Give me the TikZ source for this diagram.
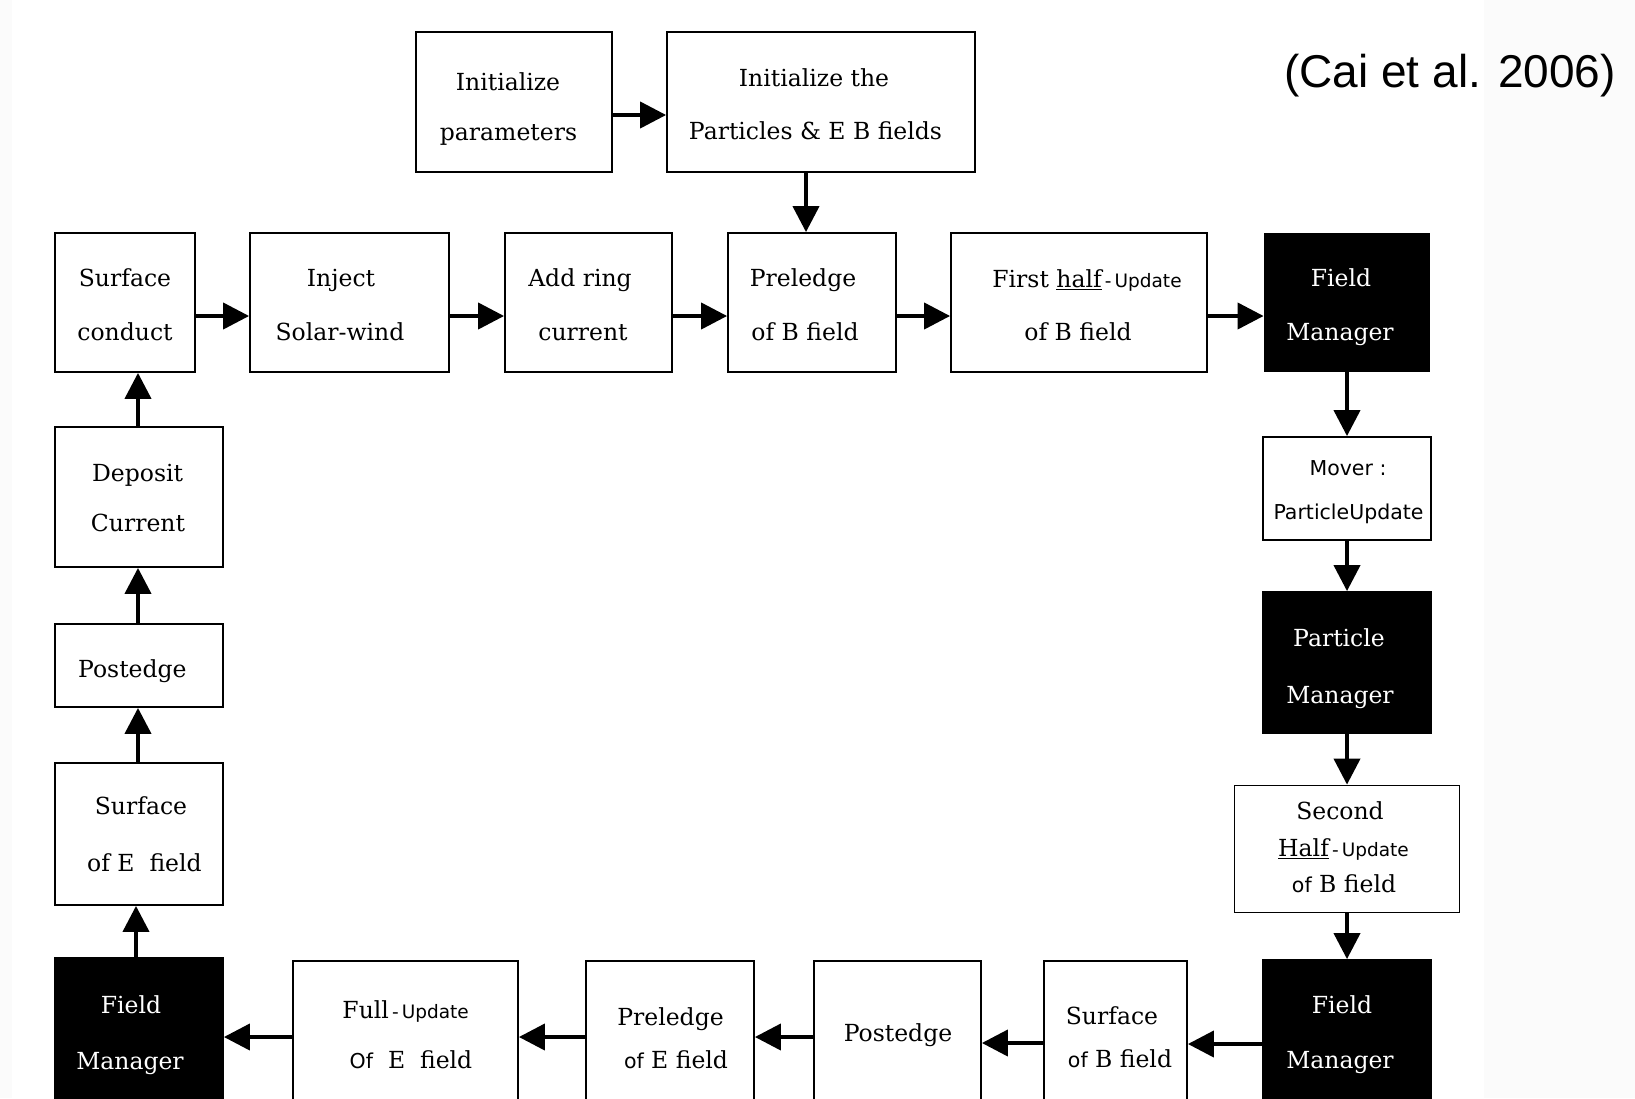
\documentclass[tikz,border=0pt]{standalone}
\usepackage{fontspec}
\setmainfont{DejaVu Serif}
\newfontfamily\sansu{DejaVu Sans}
\newfontfamily\citefont{Liberation Sans}
\usetikzlibrary{arrows.meta}
\newcommand{\smsans}[1]{{\sansu\fontsize{18.5}{22}\selectfont #1}}
\newcommand{\ofsans}[1]{{\sansu\fontsize{20.5}{24}\selectfont #1}}
\definecolor{bgtex}{RGB}{251,251,251}
\begin{document}
\begin{tikzpicture}[x=1pt,y=-1pt,
  box/.style={draw, line width=1.8pt, fill=white, rectangle, inner sep=0pt},
  blackbox/.style={draw, line width=1.8pt, fill=black, rectangle, inner sep=0pt},
  tl/.style={anchor=base, inner sep=0pt, font=\fontsize{23.5}{28}\selectfont},
  tw/.style={tl, text=white},
  ts/.style={anchor=base, inner sep=0pt, font=\sansu\fontsize{20.5}{24}\selectfont},
  arr/.style={line width=4pt, -{Triangle[length=26pt,width=26pt]}}]
\useasboundingbox (0,0) rectangle (1635,1098);
\clip (0,0) rectangle (1635,1098);
\fill[white] (0,0) rectangle (1635,1098);
\fill[bgtex] (1484,0) rectangle (1635,1098);
\fill[bgtex] (0,0) rectangle (12,1098);

% citation
\node[anchor=base, inner sep=0pt, font=\citefont\fontsize{46}{50}\selectfont] (cite) at (1450,87) {(Cai et al. 2006)};

% top boxes
\node[box, minimum width=196pt, minimum height=140pt] (ip) at (514,102) {};
\node[box, minimum width=308pt, minimum height=140pt] (ipf) at (821,102) {};
\node[tl] (ip1) at (508,90) {Initialize};
\node[tl] (ip2) at (508.5,140) {parameters};
\node[tl] (ipf1) at (814,86) {Initialize the};
\node[tl] (ipf2) at (815.5,139) {Particles \& E B fields};

% row 2
\node[box, minimum width=140pt, minimum height=139pt] (sc) at (125,302.5) {};
\node[box, minimum width=199pt, minimum height=139pt] (inj) at (349.5,302.5) {};
\node[box, minimum width=167pt, minimum height=139pt] (ring) at (588.5,302.5) {};
\node[box, minimum width=168pt, minimum height=139pt] (preB) at (812,302.5) {};
\node[box, minimum width=256pt, minimum height=139pt] (fhalf) at (1079,302.5) {};
\node[blackbox, minimum width=165pt, minimum height=137pt] (fm1) at (1347,302.5) {};
\node[tl] (sc1) at (125,286) {Surface};
\node[tl] (sc2) at (125,340) {conduct};
\node[tl] (inj1) at (341,286) {Inject};
\node[tl] (inj2) at (340,340) {Solar-wind};
\node[tl] (ring1) at (580,286) {Add ring};
\node[tl] (ring2) at (583,340) {current};
\node[tl] (preB1) at (803,286) {Preledge};
\node[tl] (preB2) at (805,340) {of B field};
\node[tl] (fhalf1) at (1087,287) {First \underline{half}\smsans{\,-\,Update}};
\node[tl] (fhalf2) at (1078,340) {of B field};
\node[tw] (fm11) at (1341,286) {Field};
\node[tw] (fm12) at (1340,340) {Manager};

% left column
\node[box, minimum width=168pt, minimum height=140pt] (dep) at (139,497) {};
\node[box, minimum width=168pt, minimum height=83pt] (post) at (139,665.5) {};
\node[box, minimum width=168pt, minimum height=142pt] (surfE) at (139,834) {};
\node[blackbox, minimum width=168pt, minimum height=182pt] (fm2) at (139,1049) {};
\node[tl] (dep1) at (137.6,481) {Deposit};
\node[tl] (dep2) at (138,531) {Current};
\node[tl] (post1) at (132.4,677) {Postedge};
\node[tl] (surfE1) at (141,814) {Surface};
\node[tl] (surfE2) at (144.4,871) {of E\ \ field};
\node[tw] (fm21) at (131,1013) {Field};
\node[tw] (fm22) at (130,1069) {Manager};

% right column
\node[box, minimum width=168pt, minimum height=103pt] (mover) at (1347,488.5) {};
\node[blackbox, minimum width=168pt, minimum height=141pt] (pm) at (1347,662.5) {};
\node[box, minimum width=225pt, minimum height=127pt] (sec) at (1347,849) {};
\node[blackbox, minimum width=168pt, minimum height=180pt] (fm3) at (1347,1050) {};
\node[ts] (mover1) at (1348,475) {Mover :};
\node[ts] (mover2) at (1348.5,519) {ParticleUpdate};
\node[tw] (pm1) at (1339,646) {Particle};
\node[tw] (pm2) at (1340,703) {Manager};
\node[tl] (sec1) at (1340,819) {Second};
\node[tl] (sec2) at (1343.5,856) {\underline{Half}\smsans{\,-\,Update}};
\node[tl] (sec3) at (1344,892) {\ofsans{of} B field};
\node[tw] (fm31) at (1342,1013) {Field};
\node[tw] (fm32) at (1340,1068) {Manager};

% bottom row
\node[box, minimum width=225pt, minimum height=179pt] (full) at (405.5,1050.5) {};
\node[box, minimum width=168pt, minimum height=179pt] (preE) at (670,1050.5) {};
\node[box, minimum width=167pt, minimum height=179pt] (postB) at (897.5,1050.5) {};
\node[box, minimum width=143pt, minimum height=179pt] (surfB) at (1115.5,1050.5) {};
\node[tl] (full1) at (405.6,1018) {Full\smsans{\,-\,Update}};
\node[tl] (full2) at (411,1068) {\ofsans{Of}\ \ E\ \ field};
\node[tl] (preE1) at (670.5,1025) {Preledge};
\node[tl] (preE2) at (676,1068) {\ofsans{of} E field};
\node[tl] (postB1) at (898,1041) {Postedge};
\node[tl] (surfB1) at (1112,1024) {Surface};
\node[tl] (surfB2) at (1120,1067) {\ofsans{of} B\ field};

% arrows
\draw[arr] ([yshift=-13pt]ip.east) -- ([yshift=-13pt]ipf.west);
\draw[arr] ([xshift=-15pt]ipf.south) -- ([xshift=-6pt]preB.north);
\draw[arr] ([yshift=-13.5pt]sc.east) -- ([yshift=-13.5pt]inj.west);
\draw[arr] ([yshift=-13.5pt]inj.east) -- ([yshift=-13.5pt]ring.west);
\draw[arr] ([yshift=-13.5pt]ring.east) -- ([yshift=-13.5pt]preB.west);
\draw[arr] ([yshift=-13.5pt]preB.east) -- ([yshift=-13.5pt]fhalf.west);
\draw[arr] ([yshift=-13.5pt]fhalf.east) -- ([yshift=-13.5pt]fm1.west);
\draw[arr] (fm1.south) -- (mover.north);
\draw[arr] (mover.south) -- (pm.north);
\draw[arr] (pm.south) -- (sec.north);
\draw[arr] (sec.south) -- (fm3.north);
\draw[arr] ([yshift=6pt]fm3.west) -- ([yshift=6.5pt]surfB.east);
\draw[arr] ([yshift=7.5pt]surfB.west) -- ([yshift=7.5pt]postB.east);
\draw[arr] ([yshift=13.5pt]postB.west) -- ([yshift=13.5pt]preE.east);
\draw[arr] ([yshift=13.5pt]preE.west) -- ([yshift=13.5pt]full.east);
\draw[arr] ([yshift=13.5pt]full.west) -- ([yshift=12pt]fm2.east);
\draw[arr] ([xshift=-3pt]fm2.north) -- ([xshift=-3pt]surfE.south);
\draw[arr] ([xshift=-1pt]surfE.north) -- ([xshift=-1pt]post.south);
\draw[arr] ([xshift=-1pt]post.north) -- ([xshift=-1pt]dep.south);
\draw[arr] ([xshift=-1pt]dep.north) -- ([xshift=13pt]sc.south);
\end{tikzpicture}
\end{document}
